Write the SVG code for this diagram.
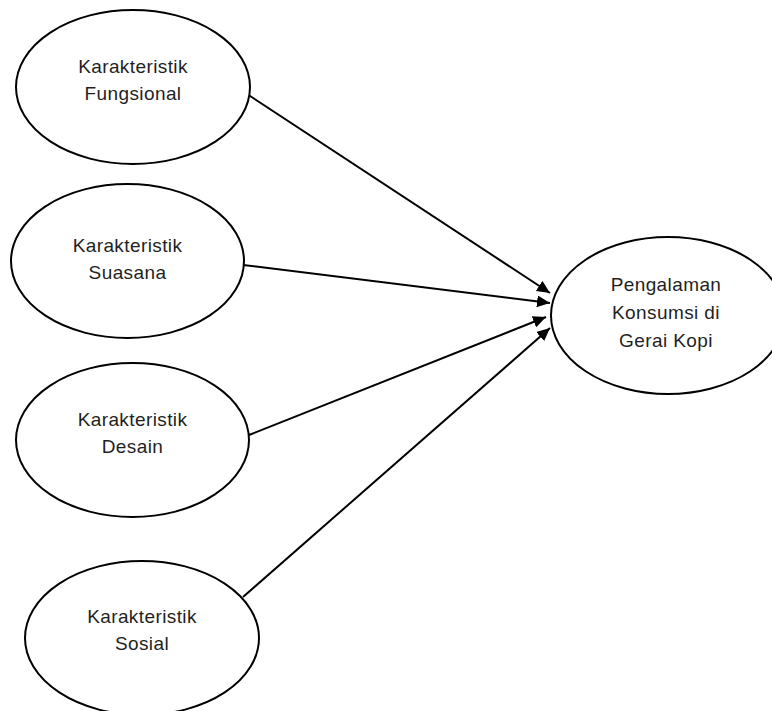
<svg xmlns="http://www.w3.org/2000/svg" width="772" height="711" viewBox="0 0 772 711">
<style>
.node ellipse{fill:#fff;stroke:#000;stroke-width:2}
.node text{font-family:"Liberation Sans",Arial,sans-serif;font-size:19px;letter-spacing:0.4px;fill:#1f1f1f;text-anchor:middle}
.conn line{stroke:#000;stroke-width:2;marker-end:url(#ah)}
</style>
<defs>
<marker id="ah" markerUnits="userSpaceOnUse" markerWidth="14" markerHeight="12" refX="13" refY="6" orient="auto">
<path d="M0,0 L13,6 L0,12 Z" fill="#000"/>
</marker>
</defs>
<rect width="772" height="711" fill="#fff"/>
<g id="connectors" class="conn">
<line x1="247" y1="94" x2="550" y2="293"/>
<line x1="243" y1="265" x2="550" y2="303"/>
<line x1="249" y1="435" x2="546" y2="317"/>
<line x1="243" y1="597" x2="550" y2="328"/>
</g>
<g id="fungsional" class="node">
<ellipse cx="133" cy="87" rx="117" ry="77"/>
<text x="133" y="73">Karakteristik</text>
<text x="133" y="100">Fungsional</text>
</g>
<g id="suasana" class="node">
<ellipse cx="127.5" cy="261" rx="116.5" ry="77"/>
<text x="127.5" y="252">Karakteristik</text>
<text x="127.5" y="279">Suasana</text>
</g>
<g id="desain" class="node">
<ellipse cx="132.5" cy="440" rx="116.5" ry="77"/>
<text x="132.5" y="426">Karakteristik</text>
<text x="132.5" y="453">Desain</text>
</g>
<g id="sosial" class="node">
<ellipse cx="142" cy="638" rx="117" ry="77"/>
<text x="142" y="623">Karakteristik</text>
<text x="142" y="650">Sosial</text>
</g>
<g id="pengalaman" class="node">
<ellipse cx="668" cy="315.5" rx="117" ry="78.5"/>
<text x="666" y="291">Pengalaman</text>
<text x="666" y="319">Konsumsi di</text>
<text x="666" y="347">Gerai Kopi</text>
</g>
</svg>
